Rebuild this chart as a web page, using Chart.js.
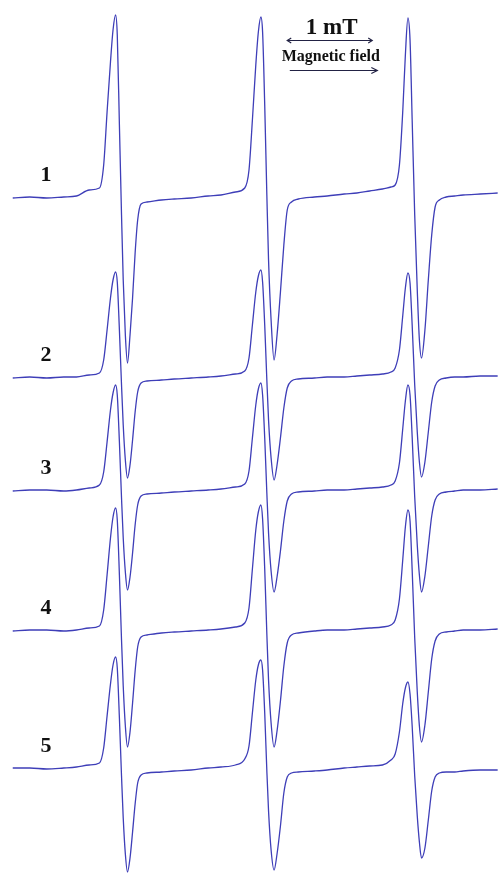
<!DOCTYPE html>
<html>
<head>
<meta charset="utf-8">
<script src="https://cdn.jsdelivr.net/npm/chart.js@4/dist/chart.umd.min.js"></script>
<style>
  html, body { margin: 0; padding: 0; background: #ffffff; }
  #wrap { width: 498px; height: 874px; position: relative; }
</style>
</head>
<body>
<div id="wrap"><canvas id="epr"></canvas></div>
<script>
// Magnetic field sweep (mT, relative to the start of the sweep)
const field = [
  0.00, 0.20, 0.40, 0.60, 0.75, 0.90, 1.02, 1.07, 1.11, 1.15, 1.18, 1.21, 1.23, 1.255, 1.28, 1.30, 1.325, 1.35,
  1.38, 1.41, 1.44, 1.47, 1.51, 1.58, 1.75, 1.90, 2.10, 2.30, 2.45,
  2.62, 2.73, 2.78, 2.82, 2.86, 2.89, 2.92, 2.94, 2.965, 2.99, 3.01, 3.04, 3.075,
  3.11, 3.15, 3.19, 3.23, 3.28, 3.36, 3.55, 3.70, 3.90, 4.05, 4.20,
  4.35, 4.45, 4.50, 4.55, 4.59, 4.62, 4.65, 4.675, 4.70, 4.73, 4.76, 4.785, 4.81,
  4.85, 4.89, 4.93, 4.97, 5.02, 5.10, 5.20, 5.30, 5.50, 5.706
];

// First-derivative EPR signal of each sample (arbitrary units)
const spectrum1 = [
  -1, 0, -1, 0, 1, 7, 9, 32, 85, 135, 167, 182, 162, 72, -18, -83, -138, -166,
  -138, -101, -56, -23, -7, -5, -3, -2, -1, 1, 2,
  5, 9, 27, 77, 132, 165, 180, 165, 92, 2, -63, -123, -163,
  -138, -95, -48, -13, -5, -2, 0, 1, 3, 4, 6,
  8, 10, 12, 32, 87, 142, 179, 157, 77, -18, -93, -143, -161,
  -133, -83, -38, -10, -3, 0, 1, 2, 3, 4
];
const spectrum2 = [
  -1, 0, -1, 0, 0, 2, 4, 17, 47, 79, 97, 105, 95, 47, -8, -48, -83, -101,
  -88, -63, -35, -15, -6, -4, -3, -2, -1, 0, 1,
  3, 6, 19, 52, 85, 101, 107, 95, 52, -3, -43, -81, -103,
  -88, -61, -31, -11, -4, -2, -1, 0, 0, 1, 2,
  3, 5, 9, 27, 62, 89, 104, 94, 52, -8, -55, -85, -100,
  -85, -55, -25, -9, -3, -1, 0, 0, 1, 1
];
const spectrum3 = [
  -1, 0, 0, -1, 0, 2, 5, 18, 48, 80, 97, 105, 95, 48, -8, -48, -82, -100,
  -87, -63, -35, -15, -6, -4, -3, -2, -1, 0, 1,
  3, 6, 19, 52, 85, 101, 107, 95, 52, -3, -43, -81, -102,
  -87, -61, -31, -11, -4, -2, -1, 0, 0, 1, 2,
  3, 5, 9, 27, 62, 89, 105, 95, 53, -7, -55, -85, -102,
  -86, -56, -26, -10, -4, -2, -1, 0, 0, 1
];
const spectrum4 = [
  -1, 0, 0, -1, 0, 2, 4, 20, 55, 92, 113, 122, 110, 55, -10, -56, -96, -117,
  -102, -73, -41, -17, -7, -5, -3, -2, -1, 0, 1,
  3, 7, 22, 61, 100, 118, 125, 111, 61, -4, -50, -93, -117,
  -101, -71, -36, -13, -5, -3, -1, 0, 0, 1, 2,
  3, 5, 10, 31, 71, 103, 120, 109, 60, -8, -62, -96, -112,
  -95, -62, -29, -11, -4, -2, -1, 0, 0, 1
];
const spectrum5 = [
  0, 0, -1, 0, 1, 3, 5, 20, 52, 84, 103, 111, 100, 50, -8, -50, -86, -104,
  -90, -64, -36, -15, -7, -5, -4, -3, -2, 0, 1,
  3, 9, 22, 55, 88, 103, 108, 98, 55, -3, -43, -82, -102,
  -86, -58, -25, -9, -5, -4, -3, -2, 0, 1, 2,
  3, 8, 14, 36, 65, 80, 86, 74, 42, -8, -48, -74, -90,
  -80, -52, -23, -9, -5, -4, -4, -3, -2, -2
];

const sampleLabels = ['1', '2', '3', '4', '5'];
const spectra = [spectrum1, spectrum2, spectrum3, spectrum4, spectrum5];

// Vertical stacking of the traces (layout)
const stackOffset = [677, 497, 384, 244, 106];
const traceColor = '#3e3eb8';

const datasets = spectra.map((s, k) => ({
  label: sampleLabels[k],
  data: field.map((b, i) => ({ x: b, y: s[i] + stackOffset[k] })),
  borderColor: traceColor,
  borderWidth: 1.3,
  pointRadius: 0,
  fill: false,
  cubicInterpolationMode: 'monotone'
}));

// Sample numbers, 1 mT scale bar and field-direction arrow
const annotations = {
  id: 'annotations',
  afterDatasetsDraw(chart) {
    const { ctx, scales: { x, y } } = chart;
    ctx.save();
    ctx.fillStyle = '#111111';
    ctx.strokeStyle = '#222244';
    ctx.textAlign = 'center';
    ctx.textBaseline = 'middle';

    ctx.font = 'bold 22px "Liberation Serif", "Times New Roman", serif';
    sampleLabels.forEach((t, k) => {
      ctx.fillText(t, x.getPixelForValue(0.39), y.getPixelForValue(stackOffset[k] + 22));
    });

    // 1 mT bar with arrowheads at both ends
    const b0 = 3.23, b1 = b0 + 1.0;
    const xa = x.getPixelForValue(b0), xb = x.getPixelForValue(b1);
    const xm = (xa + xb) / 2;
    ctx.font = 'bold 23px "Liberation Serif", "Times New Roman", serif';
    ctx.fillText('1 mT', xm + 2, 28);
    ctx.lineWidth = 1.2;
    ctx.beginPath();
    ctx.moveTo(xa, 40.5); ctx.lineTo(xb, 40.5);
    ctx.moveTo(xa + 4, 38); ctx.lineTo(xa, 40.5); ctx.lineTo(xa + 4, 43);
    ctx.moveTo(xb - 4, 38); ctx.lineTo(xb, 40.5); ctx.lineTo(xb - 4, 43);
    ctx.stroke();

    ctx.font = 'bold 16px "Liberation Serif", "Times New Roman", serif';
    ctx.fillText('Magnetic field', xm + 1, 57);

    const xc = x.getPixelForValue(3.26), xd = x.getPixelForValue(4.29);
    ctx.beginPath();
    ctx.moveTo(xc, 70.5); ctx.lineTo(xd, 70.5);
    ctx.moveTo(xd - 6, 67.5); ctx.lineTo(xd, 70.5); ctx.lineTo(xd - 6, 73.5);
    ctx.stroke();
    ctx.restore();
  }
};

new Chart(document.getElementById('epr'), {
  type: 'line',
  data: { datasets },
  options: {
    responsive: true,
    maintainAspectRatio: false,
    animation: false,
    layout: { padding: 0 },
    plugins: { legend: { display: false }, tooltip: { enabled: false } },
    scales: {
      x: { type: 'linear', min: -0.15, max: 5.71, display: false },
      y: { type: 'linear', min: 0, max: 874, display: false }
    }
  },
  plugins: [annotations]
});
</script>
</body>
</html>
